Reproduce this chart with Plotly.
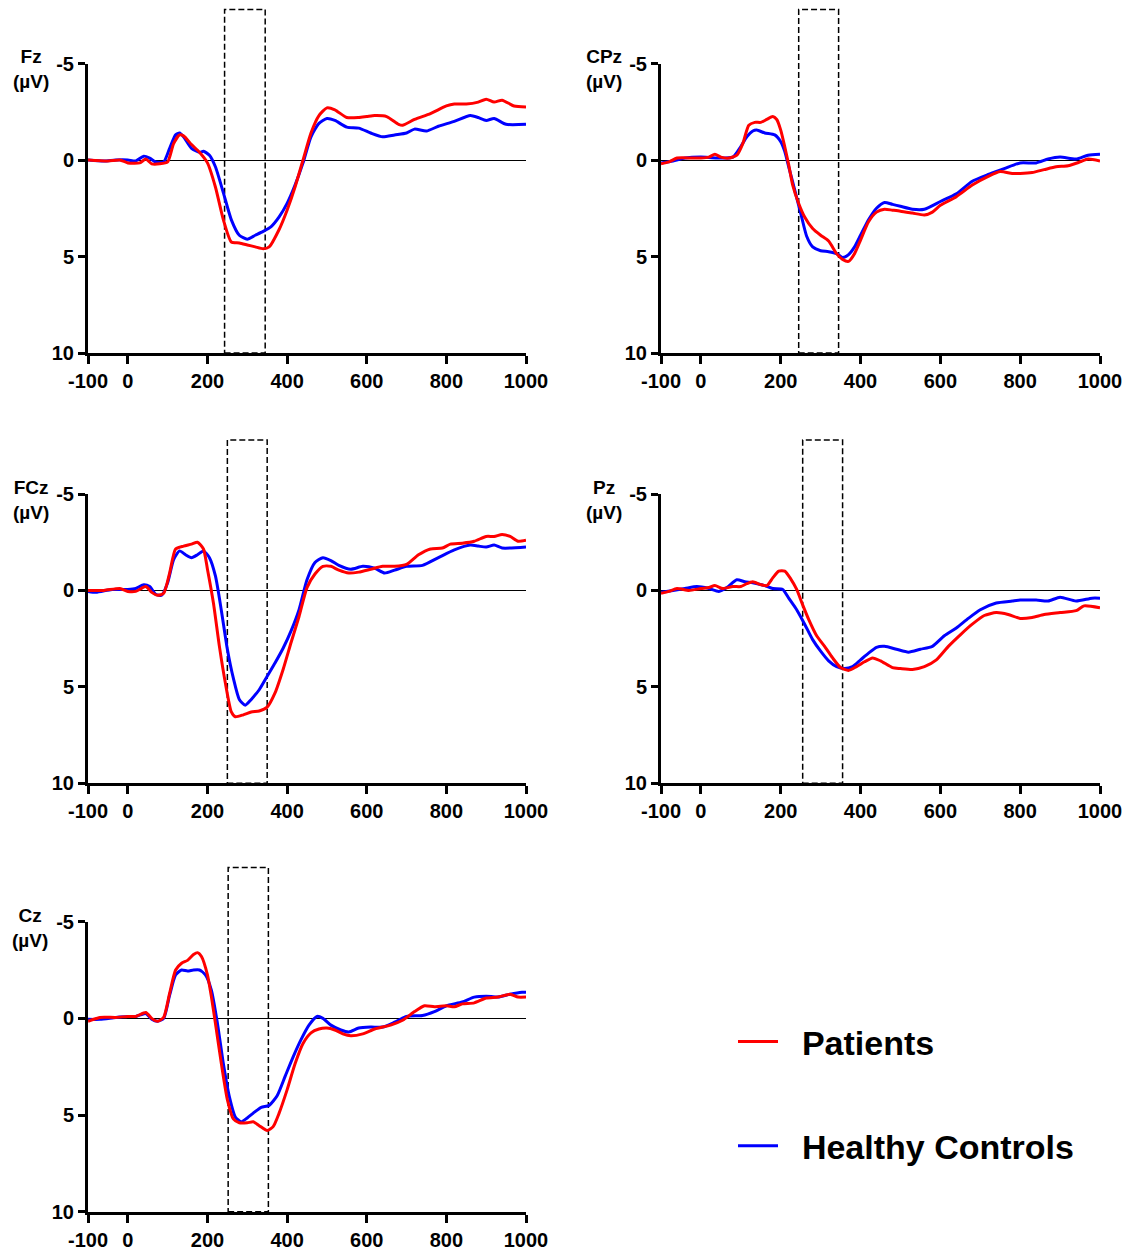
import plotly.graph_objects as go

# ---------------- data (time in ms, amplitude in µV; negative plotted up) -------------
fz_t_pat = [-100, -50, -20, 0, 30, 45, 60, 80, 100, 115, 130, 140, 160, 180, 200, 220, 240, 260, 280, 300, 320, 340, 355, 380, 400, 420, 440, 460, 480, 500, 520, 550, 580, 600, 620, 650, 680, 690, 720, 760, 800, 820, 850, 880, 900, 920, 940, 970, 1000]
fz_pat = [0.0, 0.05, 0.0, 0.15, 0.15, -0.05, 0.2, 0.2, 0.1, -0.85, -1.3, -1.25, -0.8, -0.4, 0.15, 1.4, 3.1, 4.25, 4.3, 4.4, 4.5, 4.6, 4.5, 3.6, 2.6, 1.4, 0.0, -1.4, -2.3, -2.7, -2.6, -2.2, -2.2, -2.25, -2.3, -2.25, -1.85, -1.8, -2.1, -2.4, -2.8, -2.9, -2.9, -3.0, -3.15, -3.0, -3.1, -2.8, -2.75]
fz_t_hc = [-100, -60, -30, 0, 20, 40, 55, 70, 90, 105, 120, 130, 140, 160, 180, 190, 205, 220, 240, 260, 280, 300, 320, 340, 360, 380, 400, 420, 440, 460, 480, 500, 520, 550, 580, 610, 640, 670, 700, 720, 750, 780, 820, 860, 880, 900, 920, 950, 1000]
fz_hc = [0.0, 0.05, 0.0, 0.0, 0.05, -0.2, -0.1, 0.1, 0.1, -0.6, -1.3, -1.4, -1.2, -0.6, -0.4, -0.45, -0.25, 0.35, 1.7, 3.1, 3.9, 4.1, 3.9, 3.7, 3.45, 2.95, 2.25, 1.3, 0.15, -1.2, -1.9, -2.15, -2.05, -1.7, -1.65, -1.4, -1.2, -1.3, -1.4, -1.6, -1.5, -1.75, -2.0, -2.3, -2.2, -2.05, -2.15, -1.85, -1.85]

cpz_t_pat = [-100, -80, -60, -20, 0, 20, 35, 50, 70, 90, 105, 120, 135, 150, 165, 180, 190, 200, 210, 220, 230, 245, 260, 280, 300, 320, 340, 355, 370, 385, 400, 420, 440, 460, 480, 500, 530, 560, 580, 600, 640, 680, 720, 750, 780, 800, 830, 860, 890, 920, 950, 970, 1000]
cpz_pat = [0.2, 0.1, -0.1, -0.1, -0.1, -0.15, -0.3, -0.15, -0.1, -0.25, -0.85, -1.8, -1.95, -1.95, -2.1, -2.25, -2.1, -1.55, -0.7, 0.25, 1.3, 2.25, 2.95, 3.55, 3.9, 4.2, 4.85, 5.15, 5.25, 4.85, 4.15, 3.2, 2.7, 2.55, 2.6, 2.65, 2.75, 2.85, 2.7, 2.35, 1.9, 1.3, 0.85, 0.6, 0.7, 0.7, 0.65, 0.5, 0.35, 0.3, 0.1, -0.05, 0.05]
cpz_t_hc = [-100, -70, -40, 0, 40, 80, 100, 115, 130, 140, 160, 185, 200, 210, 220, 235, 250, 265, 280, 300, 320, 340, 355, 370, 385, 400, 420, 440, 460, 480, 500, 530, 560, 600, 640, 680, 720, 760, 800, 840, 870, 900, 940, 970, 1000]
cpz_hc = [0.15, 0.05, -0.1, -0.15, -0.1, -0.15, -0.7, -1.2, -1.5, -1.55, -1.4, -1.3, -0.95, -0.45, 0.35, 1.55, 2.75, 3.95, 4.5, 4.7, 4.75, 4.85, 5.05, 4.9, 4.5, 3.9, 3.1, 2.5, 2.2, 2.3, 2.4, 2.55, 2.55, 2.15, 1.75, 1.1, 0.75, 0.45, 0.15, 0.15, -0.05, -0.15, -0.05, -0.25, -0.3]

fcz_t_pat = [-100, -60, -20, 0, 20, 45, 60, 75, 90, 105, 120, 140, 160, 175, 190, 200, 215, 230, 245, 260, 270, 290, 310, 330, 350, 370, 390, 410, 430, 450, 470, 490, 510, 530, 555, 580, 610, 640, 670, 700, 730, 760, 790, 810, 840, 870, 900, 920, 940, 960, 980, 1000]
fcz_pat = [0.0, 0.0, -0.1, 0.05, 0.05, -0.2, 0.1, 0.25, 0.15, -0.9, -2.15, -2.3, -2.4, -2.5, -2.15, -1.1, 0.65, 2.9, 4.8, 6.3, 6.55, 6.45, 6.3, 6.25, 6.05, 5.3, 4.1, 2.7, 1.35, -0.15, -0.85, -1.25, -1.25, -1.05, -0.9, -0.95, -1.1, -1.25, -1.25, -1.35, -1.85, -2.15, -2.2, -2.4, -2.45, -2.55, -2.8, -2.8, -2.9, -2.8, -2.55, -2.6]
fcz_t_hc = [-100, -80, -40, 0, 20, 40, 55, 70, 85, 100, 115, 130, 145, 160, 175, 190, 205, 220, 235, 250, 265, 280, 295, 310, 330, 350, 370, 390, 410, 430, 450, 470, 490, 510, 530, 560, 590, 620, 645, 670, 700, 740, 780, 820, 860, 880, 900, 920, 940, 1000]
fcz_hc = [0.05, 0.1, -0.05, -0.05, -0.1, -0.3, -0.2, 0.2, 0.25, -0.4, -1.6, -2.05, -1.85, -1.7, -1.85, -2.05, -1.7, -0.75, 1.05, 3.05, 4.55, 5.65, 5.95, 5.65, 5.15, 4.45, 3.75, 3.0, 2.1, 1.0, -0.55, -1.45, -1.7, -1.55, -1.3, -1.1, -1.25, -1.15, -0.9, -1.05, -1.25, -1.3, -1.7, -2.1, -2.35, -2.3, -2.25, -2.35, -2.2, -2.25]

pz_t_pat = [-100, -80, -60, -30, 0, 20, 35, 55, 80, 100, 115, 130, 150, 165, 180, 195, 210, 225, 240, 255, 270, 290, 310, 330, 350, 370, 390, 410, 430, 450, 480, 500, 530, 560, 590, 620, 650, 680, 710, 740, 770, 800, 830, 860, 900, 940, 960, 1000]
pz_pat = [0.15, 0.05, -0.1, 0.0, -0.1, -0.15, -0.25, -0.1, -0.2, -0.2, -0.35, -0.45, -0.3, -0.25, -0.65, -1.0, -1.0, -0.6, -0.05, 0.75, 1.5, 2.35, 2.9, 3.5, 4.0, 4.15, 3.95, 3.7, 3.5, 3.65, 4.0, 4.05, 4.1, 3.95, 3.6, 2.9, 2.3, 1.75, 1.3, 1.15, 1.25, 1.45, 1.4, 1.25, 1.15, 1.05, 0.8, 0.9]
pz_t_hc = [-100, -70, -40, -10, 20, 45, 65, 90, 110, 130, 160, 180, 205, 220, 240, 260, 280, 300, 320, 340, 360, 380, 400, 420, 440, 460, 490, 520, 550, 580, 610, 640, 670, 700, 740, 780, 800, 840, 870, 900, 940, 980, 1000]
pz_hc = [0.1, 0.0, -0.1, -0.2, -0.1, 0.05, -0.15, -0.55, -0.45, -0.4, -0.25, -0.1, -0.05, 0.4, 1.0, 1.75, 2.55, 3.15, 3.65, 3.95, 4.05, 3.95, 3.6, 3.25, 2.95, 2.9, 3.05, 3.2, 3.05, 2.9, 2.35, 1.95, 1.45, 1.0, 0.65, 0.55, 0.5, 0.5, 0.55, 0.35, 0.55, 0.4, 0.4]

cz_t_pat = [-100, -70, -30, 0, 20, 45, 60, 75, 90, 105, 120, 135, 150, 165, 175, 185, 200, 210, 220, 235, 250, 265, 280, 300, 315, 330, 350, 365, 380, 400, 420, 440, 460, 480, 500, 520, 540, 560, 590, 620, 660, 690, 720, 745, 770, 800, 820, 840, 870, 900, 930, 960, 980, 1000]
cz_pat = [0.15, -0.05, -0.05, -0.1, -0.1, -0.3, 0.0, 0.15, -0.05, -1.3, -2.5, -2.85, -3.0, -3.3, -3.4, -3.2, -2.25, -1.1, 0.25, 2.35, 4.2, 5.2, 5.4, 5.4, 5.35, 5.55, 5.8, 5.6, 4.9, 3.7, 2.35, 1.3, 0.75, 0.55, 0.5, 0.6, 0.8, 0.9, 0.8, 0.55, 0.35, 0.1, -0.35, -0.65, -0.6, -0.65, -0.6, -0.75, -0.8, -1.05, -1.1, -1.25, -1.1, -1.1]
cz_t_hc = [-100, -70, -30, 0, 20, 45, 60, 75, 90, 105, 120, 135, 150, 165, 180, 195, 210, 225, 240, 255, 270, 285, 300, 315, 335, 355, 375, 395, 415, 435, 455, 475, 490, 510, 535, 555, 580, 610, 640, 670, 700, 740, 770, 800, 840, 870, 900, 930, 960, 990, 1000]
cz_hc = [0.05, 0.05, -0.05, -0.1, -0.1, -0.25, 0.05, 0.15, 0.0, -1.2, -2.25, -2.5, -2.45, -2.5, -2.5, -2.25, -1.45, 0.25, 2.35, 4.05, 5.1, 5.35, 5.15, 4.9, 4.6, 4.5, 4.0, 3.0, 2.0, 1.1, 0.35, -0.1, 0.0, 0.35, 0.6, 0.7, 0.5, 0.45, 0.45, 0.2, -0.1, -0.15, -0.35, -0.65, -0.85, -1.1, -1.15, -1.1, -1.25, -1.35, -1.35]

# analysis windows (ms) shown as dashed boxes
windows = {"Fz": (243, 345), "CPz": (245, 345), "FCz": (250, 350), "Pz": (255, 355), "Cz": (252, 353)}
box_top_uv = -7.8

x_ticks = [-100, 0, 200, 400, 600, 800, 1000]
y_ticks = [-5, 0, 5, 10]
group_names = ["Patients", "Healthy Controls"]

channels = [
    ("Fz", fz_t_pat, fz_pat, fz_t_hc, fz_hc),
    ("CPz", cpz_t_pat, cpz_pat, cpz_t_hc, cpz_hc),
    ("FCz", fcz_t_pat, fcz_pat, fcz_t_hc, fcz_hc),
    ("Pz", pz_t_pat, pz_pat, pz_t_hc, pz_hc),
    ("Cz", cz_t_pat, cz_pat, cz_t_hc, cz_hc),
]

# ---------------- layout geometry ----------------
W, H = 1128, 1250
left_x = [88 / W, 526 / W]
right_x = [661 / W, 1100 / W]
rows = [[1 - 353 / H, 1 - 63.5 / H], [1 - 783.3 / H, 1 - 494 / H], [1 - 1211.7 / H, 1 - 921.7 / H]]
panel_dom = [(left_x, rows[0]), (right_x, rows[0]), (left_x, rows[1]), (right_x, rows[1]), (left_x, rows[2])]
title_x = [31, 604, 31, 604, 30]

RED = "#ff0000"
BLUE = "#0000ff"
FONT = "Liberation Sans, Arial, Helvetica, sans-serif"
NB = "\u00a0\u00a0"

fig = go.Figure()
layout = dict(
    width=W, height=H, autosize=False,
    margin=dict(l=0, r=0, t=0, b=0, pad=0, autoexpand=False),
    paper_bgcolor="white", plot_bgcolor="white",
    showlegend=True,
    font=dict(family=FONT, color="black"),
    shapes=[], annotations=[],
)

for i, (name, tp, vp, th, vh) in enumerate(channels):
    k = i + 1
    xa = "x" if k == 1 else f"x{k}"
    ya = "y" if k == 1 else f"y{k}"
    first = (k == 1)
    fig.add_trace(go.Scatter(
        x=th, y=vh, xaxis=xa, yaxis=ya, mode="lines",
        line=dict(color=BLUE, width=3, shape="spline", smoothing=0.6),
        name=NB + group_names[1], legendgroup="hc", legendrank=2, showlegend=first,
    ))
    fig.add_trace(go.Scatter(
        x=tp, y=vp, xaxis=xa, yaxis=ya, mode="lines",
        line=dict(color=RED, width=3, shape="spline", smoothing=0.6),
        name=NB + group_names[0], legendgroup="pat", legendrank=1, showlegend=first,
    ))
    xd, yd = panel_dom[i]
    axkey_x = "xaxis" if k == 1 else f"xaxis{k}"
    axkey_y = "yaxis" if k == 1 else f"yaxis{k}"
    layout[axkey_x] = dict(
        domain=xd, anchor=ya, range=[-100, 1000], tickvals=x_ticks,
        ticktext=[str(v) for v in x_ticks], automargin=False,
        showline=True, linecolor="black", linewidth=3,
        ticks="outside", ticklen=8, tickwidth=2.5, tickcolor="black",
        showgrid=False, zeroline=False,
        tickfont=dict(family=FONT, size=20, color="black", weight="bold"),
        fixedrange=True,
    )
    layout[axkey_y] = dict(
        domain=yd, anchor=xa, range=[10, -5], tickvals=y_ticks,
        ticktext=[str(v) for v in y_ticks], automargin=False,
        showline=True, linecolor="black", linewidth=3,
        ticks="outside", ticklen=7, tickwidth=2.5, tickcolor="black",
        showgrid=False, zeroline=True, zerolinecolor="black", zerolinewidth=1,
        tickfont=dict(family=FONT, size=20, color="black", weight="bold"),
        fixedrange=True,
    )
    w0, w1 = windows[name]
    layout["shapes"].append(dict(
        type="rect", xref=xa, yref=f"{ya} domain", x0=w0, x1=w1,
        y0=0, y1=(10 - box_top_uv) / 15.0, layer="below",
        line=dict(color="black", width=1.5, dash="6px,3px"),
        fillcolor="rgba(0,0,0,0)",
    ))
    layout["annotations"].append(dict(
        text=f"{name}<br>(µV)", xref="paper", yref=f"{ya} domain",
        x=title_x[i] / W, y=1, yshift=-6, xanchor="center", yanchor="middle",
        showarrow=False, align="center",
        font=dict(family=FONT, size=19, color="black", weight="bold"),
    ))

layout["legend"] = dict(
    x=733 / W, y=1 - 1013 / H, xanchor="left", yanchor="top",
    font=dict(family=FONT, size=34, color="black", weight="bold"),
    itemwidth=40, tracegroupgap=57, bgcolor="rgba(0,0,0,0)", borderwidth=0,
    traceorder="grouped", itemclick=False, itemdoubleclick=False,
)

fig.update_layout(**layout)
fig.write_html("out.html", config={"displayModeBar": False})
